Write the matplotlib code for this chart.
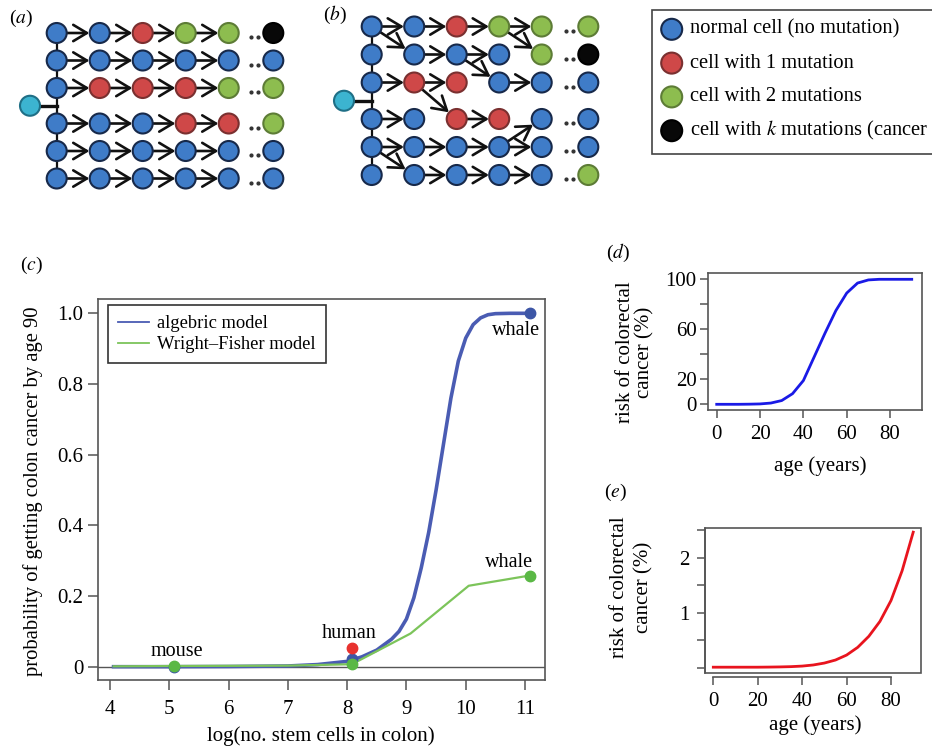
import numpy as np
import matplotlib
matplotlib.use("Agg")
import matplotlib.pyplot as plt
from matplotlib.patches import Circle, Rectangle, FancyArrowPatch
from matplotlib.lines import Line2D

plt.rcParams['font.family'] = ['Liberation Serif', 'DejaVu Serif']
plt.rcParams['mathtext.fontset'] = 'stix'

W, H = 932, 746

# ---------------- data ----------------
# panels (a)/(b): state of each cell, one string per lineage, columns = generations
# B normal, R one mutation, G two mutations, K k mutations (cancer)
a_states = ["BBRGGK", "BBBBBB", "BRRRGG", "BBBRRG", "BBBBBB", "BBBBBB"]
b_states = ["BBRGGG", "BBBBGK", "BRRBBB", "BBRRBB", "BBBBBB", "BBBBBG"]
# divisions drawn as arrows in (b): (row, col) -> (row, col)
b_edges = [((0, 0), (0, 1)), ((0, 1), (0, 2)), ((0, 2), (0, 3)), ((0, 3), (0, 4)),
           ((0, 0), (1, 1)), ((0, 3), (1, 4)),
           ((1, 1), (1, 2)), ((1, 2), (1, 3)), ((1, 2), (2, 3)),
           ((2, 0), (2, 1)), ((2, 1), (2, 2)), ((2, 1), (3, 2)), ((2, 3), (2, 4)),
           ((3, 0), (3, 1)), ((3, 2), (3, 3)),
           ((4, 0), (4, 1)), ((4, 1), (4, 2)), ((4, 2), (4, 3)), ((4, 3), (4, 4)),
           ((4, 3), (3, 4)), ((4, 0), (5, 1)),
           ((5, 1), (5, 2)), ((5, 2), (5, 3)), ((5, 3), (5, 4))]
key_states = ["B", "R", "G", "K"]
# the last key entry is cut by the right edge in the original figure
key_labels = ["normal cell (no mutation)", "cell with 1 mutation",
              "cell with 2 mutations", r"cell with $k$ mutations (cancer"]

# panel (c)
alg_x = [4.06, 5.0, 6.0, 7.0, 7.5, 8.0, 8.25, 8.5, 8.75, 8.875, 9.0, 9.125, 9.25, 9.375,
         9.5, 9.625, 9.75, 9.875, 10.0, 10.125, 10.25, 10.375, 10.5, 10.75, 11.08]
alg_y = [0.0, 0.0, 0.0005, 0.002, 0.006, 0.015, 0.028, 0.047, 0.078, 0.10, 0.135, 0.195,
         0.28, 0.38, 0.50, 0.63, 0.76, 0.865, 0.93, 0.968, 0.987, 0.996, 0.999, 1.0, 1.0]
wf_x = [4.06, 5.08, 7.0, 8.08, 9.07, 10.05, 11.08]
wf_y = [0.001, 0.002, 0.003, 0.007, 0.094, 0.229, 0.258]
species = ["mouse", "human", "whale"]
species_x = [5.08, 8.08, 11.08]
alg_pts = [0.0, 0.022, 1.0]
wf_pts = [0.002, 0.007, 0.258]
human_observed = 0.052

# panel (d)
d_age = [0, 5, 10, 15, 20, 25, 30, 35, 40, 45, 50, 55, 60, 65, 70, 75, 80, 85, 90]
d_risk = [0, 0, 0, 0.1, 0.3, 1.0, 3.0, 8.5, 19, 38, 57, 75, 89, 97, 99.5, 100, 100, 100, 100]
# panel (e)
e_age = [0, 5, 10, 15, 20, 25, 30, 35, 40, 45, 50, 55, 60, 65, 70, 75, 80, 85, 90]
e_risk = [0.01, 0.01, 0.01, 0.01, 0.01, 0.012, 0.015, 0.02, 0.03, 0.05, 0.085, 0.14,
          0.23, 0.37, 0.57, 0.84, 1.22, 1.76, 2.46]

# ---------------- figure ----------------
fig = plt.figure(figsize=(W / 100, H / 100), dpi=100)
fig.patch.set_facecolor('white')


def ftext(x, y, s, **kw):
    return fig.text(x / W, 1 - y / H, s, **kw)


def add_axes_px(left, top, right, bottom, **kw):
    return fig.add_axes([left / W, 1 - bottom / H, (right - left) / W, (bottom - top) / H], **kw)


# diagram canvas in pixel units
ax0 = fig.add_axes([0, 0, 1, 1])
ax0.set_xlim(0, W)
ax0.set_ylim(H, 0)
ax0.axis('off')

fill = {"B": "#3f7cc8", "R": "#cf4848", "G": "#8dbd4f", "K": "#080808", "C": "#3cb4d0"}
edge = {"B": "#17294a", "R": "#7a3030", "G": "#5d7c36", "K": "#000000", "C": "#1f6f86"}
RC = 10


def draw_panel(states, edges, x0, dx, x_last, y0, dy, gap, root_x):
    ys = [y0 + i * dy + (gap if i >= 3 else 0) for i in range(len(states))]
    ncol = len(states[0])
    xs = [x0 + j * dx for j in range(ncol - 1)] + [x_last]
    ax0.plot([xs[0], xs[0]], [ys[0], ys[-1]], color='#111', lw=1.6, zorder=1)
    ry = (ys[2] + ys[3]) / 2
    ax0.plot([root_x, xs[0]], [ry, ry], color='#111', lw=2.4, zorder=1)
    ax0.add_patch(Circle((root_x, ry), RC, fc=fill['C'], ec=edge['C'], lw=1.5, zorder=3))
    for (r1, c1), (r2, c2) in edges:
        p1 = np.array([xs[c1], ys[r1]])
        p2 = np.array([xs[c2], ys[r2]])
        u = (p2 - p1) / np.hypot(*(p2 - p1))
        ax0.add_patch(FancyArrowPatch(p1 + u * RC, p2 - u * (RC + 0.3),
                                      arrowstyle='->,head_length=0.7,head_width=0.42',
                                      mutation_scale=14, lw=1.9, color='#111',
                                      shrinkA=0, shrinkB=0, zorder=2))
    for i, row in enumerate(states):
        for j, s in enumerate(row):
            ax0.add_patch(Circle((xs[j], ys[i]), RC, fc=fill[s], ec=edge[s], lw=1.5, zorder=3))
        ax0.plot([x_last - 22, x_last - 15], [ys[i] + 4, ys[i] + 4], 'o', ms=2.0,
                 color='#333', zorder=2)


a_edges = [((i, j), (i, j + 1)) for i in range(len(a_states)) for j in range(4)]
draw_panel(a_states, a_edges, 56.7, 43.0, 273.3, 33.0, 27.5, 8.0, 30.0)
draw_panel(b_states, b_edges, 371.7, 42.5, 588.3, 26.5, 28.0, 8.5, 344.0)

ftext(21, 18, r'($a$)', fontsize=14, ha='center', va='center')
ftext(335, 15, r'($b$)', fontsize=14, ha='center', va='center')

# key box (runs past the right edge, as in the original)
ax0.add_patch(Rectangle((651.7, 10), 320, 144, fc='white', ec='#444', lw=1.2, zorder=1))
for k, (s, lab) in enumerate(zip(key_states, key_labels)):
    yk = 29.3 + k * 33.8
    ax0.add_patch(Circle((671.7, yk), 10.5, fc=fill[s], ec=edge[s], lw=1.5, zorder=3))
    ax0.text(690.5, yk, lab, fontsize=14.8, ha='left', va='center', zorder=3)

# ---------------- panel (c) ----------------
axis_col = '#555555'
axc = add_axes_px(97.5, 299, 545, 680.3)
axc.set_xlim(3.789, 11.337)
axc.set_ylim(-0.0385, 1.0405)
axc.axhline(0, color='#555', lw=1.0, zorder=2)
axc.plot(alg_x, alg_y, color='#4a5cb3', lw=2.6, zorder=3)
axc.plot(wf_x, wf_y, color='#7cc45a', lw=1.6, zorder=3)
axc.plot(species_x, alg_pts, 'o', color='#3d56a6', ms=7.5, zorder=4)
axc.plot(species_x, wf_pts, 'o', color='#5ab845', ms=7.5, zorder=5)
axc.plot([species_x[1]], [human_observed], 'o', color='#e8322f', ms=7.5, zorder=5)
axc.text(species_x[0] + 0.04, 0.042, species[0], fontsize=14.5, ha='center', va='center')
axc.text(species_x[1] - 0.04, 0.094, species[1], fontsize=14.5, ha='center', va='center')
axc.text(species_x[2] - 0.23, 0.950, species[2], fontsize=14.5, ha='center', va='center')
axc.text(species_x[2] - 0.35, 0.296, species[2], fontsize=14.5, ha='center', va='center')
axc.set_xticks([4, 5, 6, 7, 8, 9, 10, 11])
axc.set_yticks([0, 0.2, 0.4, 0.6, 0.8, 1.0])
axc.set_yticklabels(["0", "0.2", "0.4", "0.6", "0.8", "1.0"])
axc.tick_params(axis='x', length=7.5, width=1.1, color=axis_col, labelsize=15, pad=7)
axc.tick_params(axis='y', length=7.5, width=1.1, color=axis_col, labelsize=15, pad=2.5)
for sp in axc.spines.values():
    sp.set_color(axis_col)
    sp.set_linewidth(1.2)
handles = [Line2D([], [], color='#4a5cb3', lw=1.3), Line2D([], [], color='#7cc45a', lw=1.3)]
leg = axc.legend(handles, ["algebric model", "Wright\u2013Fisher model"], loc='upper left',
                 bbox_to_anchor=(0.0235, 0.984), fontsize=13.3, frameon=True, fancybox=False,
                 edgecolor='#333', framealpha=1, handlelength=1.65, handletextpad=0.45,
                 borderpad=0.55, labelspacing=0.22, borderaxespad=0)
leg.get_frame().set_linewidth(1.2)
ftext(31, 265, r'($c$)', fontsize=14, ha='center', va='center')
ftext(33, 491, "probability of getting colon cancer by age 90", fontsize=14.9,
      rotation=90, ha='center', va='center')
ftext(321, 736, "log(no. stem cells in colon)", fontsize=15, ha='center', va='center')

# ---------------- panel (d) ----------------
axd = add_axes_px(708.3, 273.3, 921.7, 410)
axd.set_xlim(-3.88, 94.6)
axd.set_ylim(-4.56, 104.8)
axd.plot(d_age, d_risk, color='#1a1ae6', lw=2.0)
axd.set_xticks([0, 20, 40, 60, 80])
axd.set_yticks([0, 20, 40, 60, 80, 100])
axd.set_yticklabels(["0", "20", "", "60", "", "100"])
axd.tick_params(axis='x', length=6, width=1.1, color=axis_col, labelsize=15, pad=4.8)
axd.tick_params(axis='y', length=6, width=1.1, color=axis_col, labelsize=15, pad=2.4)
for sp in axd.spines.values():
    sp.set_color(axis_col)
    sp.set_linewidth(1.2)
ftext(618, 253, r'($d$)', fontsize=14, ha='center', va='center')
ftext(625, 352, "risk of colorectal", fontsize=15, rotation=90, ha='center', va='center')
ftext(645, 352, "cancer (%)", fontsize=15, rotation=90, ha='center', va='center')
ftext(820, 466, "age (years)", fontsize=15, ha='center', va='center')

# ---------------- panel (e) ----------------
axe = add_axes_px(705, 528.3, 921, 672.7)
axe.set_xlim(-3.74, 93.5)
axe.set_ylim(-0.09, 2.53)
axe.plot(e_age, e_risk, color='#e8141e', lw=2.0)
axe.set_xticks([0, 20, 40, 60, 80])
axe.set_yticks([0, 0.5, 1, 1.5, 2, 2.5])
axe.set_yticklabels(["", "", "1", "", "2", ""])
axe.spines['bottom'].set_position(('outward', 3))
axe.spines['bottom'].set_bounds(0, 80)
axe.spines['top'].set_visible(False)
axe.spines['right'].set_visible(False)
axe.add_patch(Rectangle((0, 0), 1, 1, transform=axe.transAxes, fill=False,
                        ec=axis_col, lw=1.2, clip_on=False))
axe.tick_params(axis='x', length=6, width=1.1, color=axis_col, labelsize=15, pad=4.8)
axe.tick_params(axis='y', length=6, width=1.1, color=axis_col, labelsize=15, pad=5)
for sp in axe.spines.values():
    sp.set_color(axis_col)
    sp.set_linewidth(1.2)
ftext(615, 492, r'($e$)', fontsize=14, ha='center', va='center')
ftext(620, 587, "risk of colorectal", fontsize=15, rotation=90, ha='center', va='center')
ftext(644, 587, "cancer (%)", fontsize=15, rotation=90, ha='center', va='center')
ftext(815, 725, "age (years)", fontsize=15, ha='center', va='center')

fig.savefig("out.png", dpi=100, facecolor='white')
